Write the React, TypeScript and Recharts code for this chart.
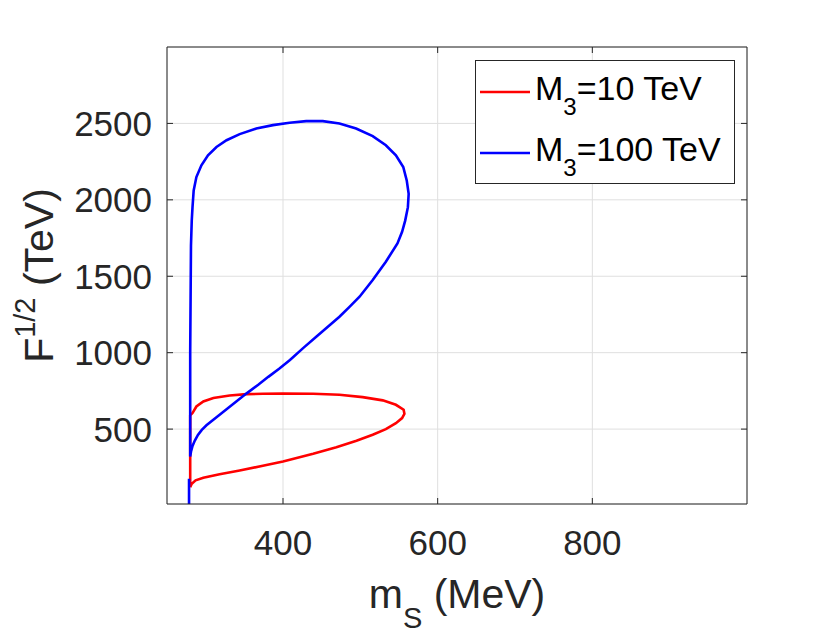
import React from "react";
import { LineChart, Line, XAxis, YAxis, CartesianGrid, Legend } from "recharts";

// axis ticks
const xTicks = [400, 600, 800];
const yTicks = [500, 1000, 1500, 2000, 2500];

// M3 = 10 TeV contour (m_S in MeV, F^1/2 in TeV)
const redMs = [
  280, 280, 280, 283, 288, 297, 310, 331, 353, 374, 400, 439, 473, 503, 529, 546,
  556, 557, 554, 546, 533, 516, 495, 469, 439, 400, 374, 344, 318, 297, 287, 282,
  280,
];
const redF = [
  120, 300, 590, 605, 648, 681, 703, 720, 729, 731, 733, 731, 725, 709, 688, 659,
  627, 600, 572, 539, 500, 463, 424, 382, 339, 288, 260, 229, 205, 182, 165, 142,
  120,
];

// M3 = 100 TeV contour, short stem at the bottom then the loop
const blueMs = [
  278.5, 278.5, 278.5,
  280, 281, 283, 286, 290, 295, 301, 314, 327, 340, 353, 368, 381, 395, 409, 426,
  443, 458, 473, 486, 499, 516, 533, 548, 554, 558, 561.5, 562.5, 560, 555.5, 546,
  533, 516, 494.5, 473, 451.5, 430, 408.5, 387, 365.5, 344, 327, 314, 303, 294.5,
  288, 284.5, 283, 282, 281, 280, 280,
];
const blueF: (number | null)[] = [
  10, 175, null,
  320, 352, 390, 425, 462, 495, 525, 578, 630, 682, 734, 790, 842, 895, 952, 1030,
  1104, 1170, 1235, 1300, 1366, 1475, 1595, 1715, 1791, 1864, 1952, 2040, 2127, 2215, 2292,
  2357, 2417, 2467, 2500, 2515, 2515, 2504, 2489, 2467, 2430, 2390, 2346, 2292, 2226,
  2149, 2061, 1952, 1864, 1700, 1000, 320,
];

const redData = redMs.map((x, i) => ({ x, y: redF[i] }));
const blueData = blueMs.map((x, i) => ({ x, y: blueF[i] }));

const INK = "#262626";
const FONT = "'Liberation Sans', Arial, Helvetica, sans-serif";

function BottomTick(props: any) {
  const { x, y, payload } = props;
  return (
    <g>
      <line x1={x} x2={x} y1={y} y2={y - 6} stroke={INK} />
      <text x={x} y={y + 51} textAnchor="middle" fontSize={35} fill={INK} fontFamily={FONT}>
        {payload.value}
      </text>
    </g>
  );
}

function LeftTick(props: any) {
  const { x, y, payload } = props;
  return (
    <g>
      <line x1={x} x2={x + 6} y1={y} y2={y} stroke={INK} />
      <text x={x - 15} y={y + 12.5} textAnchor="end" fontSize={35} fill={INK} fontFamily={FONT}>
        {payload.value}
      </text>
    </g>
  );
}

function TopTick(props: any) {
  const { x, y } = props;
  return <line x1={x} x2={x} y1={y} y2={y + 6} stroke={INK} />;
}

function RightTick(props: any) {
  const { x, y } = props;
  return <line x1={x} x2={x - 6} y1={y} y2={y} stroke={INK} />;
}

function XLabel(props: any) {
  const vb = props.viewBox || { x: 167, y: 504, width: 580 };
  const cx = vb.x + vb.width / 2;
  return (
    <text x={cx} y={vb.y + 104} textAnchor="middle" fontSize={41} fill={INK} fontFamily={FONT}>
      m
      <tspan fontSize={29} dy={20}>S</tspan>
      <tspan dy={-20}> (MeV)</tspan>
    </text>
  );
}

function YLabel(props: any) {
  const vb = props.viewBox || { x: 0, y: 47, height: 457 };
  const cx = vb.x + 53;
  const cy = vb.y + vb.height / 2;
  return (
    <text
      x={cx}
      y={cy}
      transform={`rotate(-90, ${cx}, ${cy})`}
      textAnchor="middle"
      fontSize={41}
      fill={INK}
      fontFamily={FONT}
    >
      F
      <tspan fontSize={29} dy={-18}>1/2</tspan>
      <tspan dy={18}> (TeV)</tspan>
    </text>
  );
}

function LegendBox(props: any) {
  const items = props.payload || [];
  return (
    <svg width={260} height={124} style={{ display: "block" }}>
      <rect x={0.5} y={0.5} width={259} height={123} fill="#fff" stroke={INK} />
      {items.map((entry: any, i: number) => {
        const ly = 32 + i * 61;
        const name = String(entry.value);
        return (
          <g key={name}>
            <line x1={5} x2={55} y1={ly} y2={ly} stroke={entry.color} strokeWidth={2.6} />
            <text x={60} y={ly + 7.5} fontSize={34} fill="#000" fontFamily={FONT}>
              {name.slice(0, 1)}
              <tspan fontSize={24} dy={15}>{name.slice(1, 2)}</tspan>
              <tspan dy={-15}>{name.slice(2)}</tspan>
            </text>
          </g>
        );
      })}
    </svg>
  );
}

export default function App() {
  return (
    <div style={{ position: "absolute", left: 0, top: 0, background: "#fff" }}>
      <LineChart width={827} height={638} margin={{ top: 46, right: 79, bottom: 0, left: 0 }}>
        <CartesianGrid stroke="#dfdfdf" strokeWidth={1} />
        <XAxis
          dataKey="x"
          type="number"
          domain={[250, 1000]}
          ticks={xTicks}
          allowDataOverflow
          height={134}
          tickSize={0}
          tickMargin={0}
          tickLine={false}
          axisLine={{ stroke: INK }}
          tick={<BottomTick />}
          label={<XLabel />}
        />
        <XAxis
          xAxisId="top"
          orientation="top"
          dataKey="x"
          type="number"
          domain={[250, 1000]}
          ticks={xTicks}
          allowDataOverflow
          height={1}
          tickSize={0}
          tickMargin={0}
          tickLine={false}
          axisLine={{ stroke: INK }}
          tick={<TopTick />}
        />
        <YAxis
          type="number"
          domain={[10, 3000]}
          ticks={yTicks}
          allowDataOverflow
          width={167}
          tickSize={0}
          tickMargin={0}
          tickLine={false}
          axisLine={{ stroke: INK }}
          tick={<LeftTick />}
          label={<YLabel />}
        />
        <YAxis
          yAxisId="right"
          orientation="right"
          type="number"
          domain={[10, 3000]}
          ticks={yTicks}
          allowDataOverflow
          width={1}
          tickSize={0}
          tickMargin={0}
          tickLine={false}
          axisLine={{ stroke: INK }}
          tick={<RightTick />}
        />
        <Legend
          layout="vertical"
          align="center"
          verticalAlign="middle"
          wrapperStyle={{ position: "absolute", left: 475, top: 60, width: 260, height: 124 }}
          content={<LegendBox />}
        />
        <Line
          data={redData}
          dataKey="y"
          name="M3=10 TeV"
          stroke="#ff0000"
          strokeWidth={2.6}
          dot={false}
          activeDot={false}
          type="linear"
          isAnimationActive={false}
        />
        <Line
          data={blueData}
          dataKey="y"
          name="M3=100 TeV"
          stroke="#0000ff"
          strokeWidth={2.6}
          dot={false}
          activeDot={false}
          type="linear"
          isAnimationActive={false}
        />
      </LineChart>
    </div>
  );
}
